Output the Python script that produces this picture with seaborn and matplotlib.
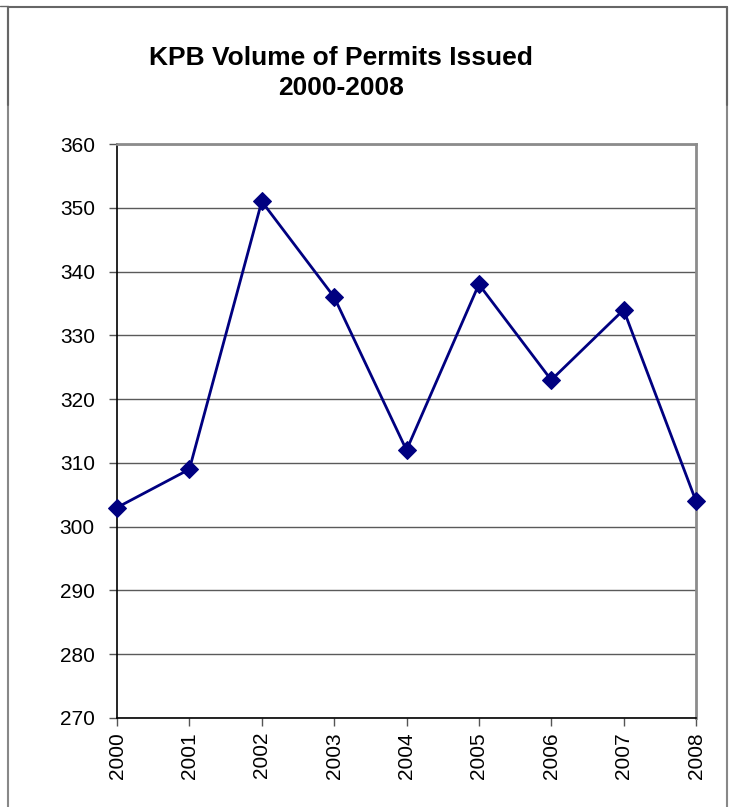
import matplotlib.pyplot as plt
import pandas as pd
import seaborn as sns
from matplotlib.lines import Line2D

# data
years = ['2000', '2001', '2002', '2003', '2004', '2005', '2006', '2007', '2008']
permits = [303, 309, 351, 336, 312, 338, 323, 334, 304]

df = pd.DataFrame({'year': years, 'permits': permits})
df['pos'] = range(len(df))

sns.set_style('white')
plt.rcParams['font.family'] = ['Liberation Sans', 'DejaVu Sans']
plt.rcParams['text.color'] = 'black'

W, H = 729, 807
fig = plt.figure(figsize=(W / 100, H / 100), dpi=100)
ax = fig.add_axes([117 / W, 1 - 718 / H, (696 - 117) / W, (718 - 144) / H])

sns.lineplot(data=df, x='pos', y='permits', ax=ax, color='#000080',
             linewidth=2, marker='D', markersize=9.5, markeredgecolor='#000080',
             clip_on=False, zorder=5)

ax.set_xlim(0, len(years) - 1)
ax.set_ylim(270, 360)
ax.set_yticks(range(270, 361, 10))
ax.set_xticks(df['pos'])
ax.set_xticklabels(years, rotation=90)
ax.set_xlabel('')
ax.set_ylabel('')
ax.yaxis.grid(True, color='#5a5a5a', linewidth=1)
ax.set_axisbelow(True)

for s in ['top', 'right']:
    ax.spines[s].set_color('#8c8c8c')
    ax.spines[s].set_linewidth(2)
for s in ['left', 'bottom']:
    ax.spines[s].set_color('black')
    ax.spines[s].set_linewidth(1.2)

ax.tick_params(axis='both', direction='out', length=6, width=1,
               color='#555555', labelsize=15, labelcolor='black')
ax.tick_params(axis='y', left=True, pad=10)
ax.tick_params(axis='x', bottom=True, pad=4)

fig.text(341 / W, 1 - 73 / H, 'KPB Volume of Permits Issued\n2000-2008',
         ha='center', va='center', fontsize=19, fontweight='bold',
         color='black', linespacing=1.3)

# outer frame of the chart area
def px_line(x0, y0, x1, y1, color, lw):
    fig.add_artist(Line2D([x0 / W, x1 / W], [1 - y0 / H, 1 - y1 / H],
                          transform=fig.transFigure, color=color, linewidth=lw))

px_line(8, 7, 727, 7, '#666666', 1.5)
px_line(8, 7, 8, 807, '#888888', 1.5)
px_line(727, 7, 727, 807, '#888888', 1.5)
px_line(8, 7, 8, 105, '#666666', 1.5)
px_line(727, 7, 727, 105, '#666666', 1.5)
px_line(0, 6, 8, 6, '#666666', 1)

fig.savefig('out.png', dpi=100)
